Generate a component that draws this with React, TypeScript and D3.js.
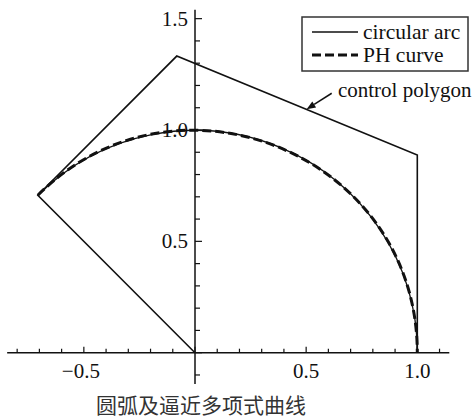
import React from "react";
import * as d3 from "d3";

// Control polygon vertices (x, y)
const polygonX = [0, -0.707, -0.082, 1.0, 1.0];
const polygonY = [0, 0.707, 1.332, 0.888, 0];

// PH curve (cubic Bézier) control points: polygon vertices 1..4
const phIdx = [1, 2, 3, 4];

// Circular arc: centre, radius, angles (degrees)
const arcCenter = [0, 0];
const arcRadius = 1;
const arcAnglesDeg = [135, 0];

// Axis ticks
const xTickTenths = d3.range(-8, 12); // -0.8 .. 1.1
const yTickTenths = d3.range(-1, 16); // -0.1 .. 1.5
const xLabels = [-0.5, 0.5, 1.0];
const yLabels = [0.5, 1.0, 1.5];

// Legend and annotation
const legendItems = ["circular arc", "PH curve"];
const annotationText = "control polygon";
const annotationTail = [0.615, 1.165];
const annotationTip = [0.502, 1.093];
const annotationPos = [0.643, 1.148];
const caption = "圆弧及逼近多项式曲线";

const W = 474;
const H = 419;
const ink = "#111";
const serifStyle = { fontFamily: "Liberation Serif" };

export default function App() {
  const x = d3.scaleLinear().domain([0, 1]).range([195, 417.3]);
  const y = d3.scaleLinear().domain([0, 1]).range([352.7, 130]);

  const polyLine = d3
    .line<number>()
    .x((i) => x(polygonX[i]))
    .y((i) => y(polygonY[i]));
  const polyPath = polyLine(d3.range(polygonX.length)) || "";

  // circular arc
  const rPx = x(arcRadius) - x(0);
  const arcP = d3.path();
  const a0 = (-arcAnglesDeg[0] * Math.PI) / 180;
  const a1 = (-arcAnglesDeg[1] * Math.PI) / 180;
  const cx = x(arcCenter[0]);
  const cy = y(arcCenter[1]);
  arcP.moveTo(cx + rPx * Math.cos(a0), cy + rPx * Math.sin(a0));
  arcP.arc(cx, cy, rPx, a0, a1, false);

  // PH curve
  const P = phIdx.map((i) => [x(polygonX[i]), y(polygonY[i])]);
  const phP = d3.path();
  phP.moveTo(P[0][0], P[0][1]);
  phP.bezierCurveTo(P[1][0], P[1][1], P[2][0], P[2][1], P[3][0], P[3][1]);

  // annotation arrow
  const tx = x(annotationTail[0]);
  const ty = y(annotationTail[1]);
  const hx = x(annotationTip[0]);
  const hy = y(annotationTip[1]);
  const ang = Math.atan2(hy - ty, hx - tx);
  const hl = 9;
  const hw = 3.5;
  const bx = hx - hl * Math.cos(ang);
  const by = hy - hl * Math.sin(ang);
  const head = `M${hx},${hy}L${bx + hw * Math.sin(ang)},${by - hw * Math.cos(ang)}L${
    bx - hw * Math.sin(ang)
  },${by + hw * Math.cos(ang)}Z`;

  const xAxisY = y(0);
  const yAxisX = x(0);

  return (
    <div style={{ position: "absolute", left: 0, top: 0 }}>
      <svg
        width={W}
        height={H}
        style={{ display: "block", background: "#fff", fontFamily: "Liberation Serif" }}
      >
        {/* axes */}
        <line x1={x(-0.845)} x2={x(1.144)} y1={xAxisY} y2={xAxisY} stroke={ink} strokeWidth={1.5} />
        <line x1={yAxisX} x2={yAxisX} y1={y(-0.14)} y2={y(1.54)} stroke={ink} strokeWidth={1.5} />
        {xTickTenths.map((t) => {
          const major = t % 5 === 0;
          return (
            <line
              key={"xt" + t}
              x1={x(t / 10)}
              x2={x(t / 10)}
              y1={xAxisY}
              y2={xAxisY - (major ? 6 : 4)}
              stroke={ink}
              strokeWidth={1.2}
            />
          );
        })}
        {yTickTenths.map((t) => {
          const major = t % 5 === 0;
          return (
            <line
              key={"yt" + t}
              x1={yAxisX}
              x2={yAxisX + (major ? 7 : 5)}
              y1={y(t / 10)}
              y2={y(t / 10)}
              stroke={ink}
              strokeWidth={1.2}
            />
          );
        })}
        {xLabels.map((v) => (
          <text
            key={"xl" + v}
            x={x(v) - (v < 0 ? 3 : 0)}
            y={xAxisY + 25}
            textAnchor="middle"
            style={serifStyle}
            fontSize={21}
            fill={ink}
          >
            {v < 0 ? "\u2212" + Math.abs(v).toFixed(1) : v.toFixed(1)}
          </text>
        ))}
        {yLabels.map((v) => (
          <text
            key={"yl" + v}
            x={yAxisX - 7}
            y={y(v) + 7}
            textAnchor="end"
            style={serifStyle}
            fontSize={21}
            fill={ink}
          >
            {v.toFixed(1)}
          </text>
        ))}

        {/* control polygon */}
        <path d={polyPath} fill="none" stroke={ink} strokeWidth={1.6} strokeLinejoin="miter" />
        {/* circular arc */}
        <path d={arcP.toString()} fill="none" stroke={ink} strokeWidth={1.3} />
        {/* PH curve */}
        <path
          d={phP.toString()}
          fill="none"
          stroke={ink}
          strokeWidth={3}
          strokeDasharray="9,4"
        />

        {/* annotation */}
        <line x1={tx} y1={ty} x2={bx} y2={by} stroke={ink} strokeWidth={1.5} />
        <path d={head} fill={ink} />
        <text
          x={x(annotationPos[0])}
          y={y(annotationPos[1])}
          style={serifStyle}
          fontSize={21}
          fill={ink}
        >
          {annotationText}
        </text>

        {/* legend */}
        <rect x={302} y={17} width={166} height={54} fill="#fff" stroke="#333" strokeWidth={1.5} />
        {legendItems.map((name, i) => (
          <g key={name} transform={`translate(0, ${32 + i * 23})`}>
            <line
              x1={312}
              x2={358}
              y1={0}
              y2={0}
              stroke={ink}
              strokeWidth={i === 0 ? 1.3 : 3}
              strokeDasharray={i === 0 ? undefined : "9,4"}
            />
            <text x={363} y={7} style={serifStyle} fontSize={21.5} fill={ink}>
              {name}
            </text>
          </g>
        ))}

        {/* caption */}
        <text
          x={201}
          y={413}
          textAnchor="middle"
          style={{ fontFamily: "Noto Sans CJK SC" }}
          fontSize={21}
          fill="#333"
        >
          {caption}
        </text>
      </svg>
    </div>
  );
}
